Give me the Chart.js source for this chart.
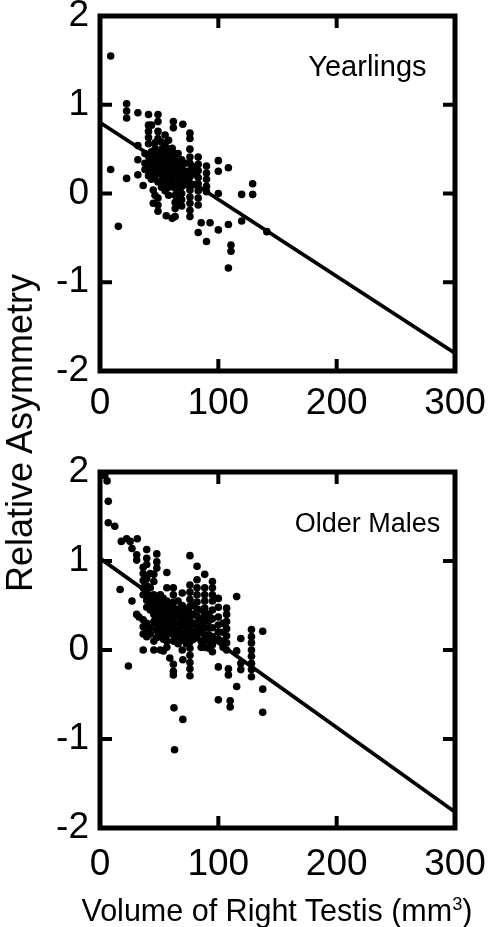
<!DOCTYPE html>
<html>
<head>
<meta charset="utf-8">
<script src="https://cdn.jsdelivr.net/npm/chart.js@4.4.0/dist/chart.umd.min.js"></script>
<style>
  html, body { margin: 0; padding: 0; background: #fff; }
  #wrap { position: relative; width: 488px; height: 927px; overflow: hidden; font-family: 'Liberation Sans', Arial, sans-serif; color: #000; }
  canvas { position: absolute; left: 0; }
  #top { top: 0; }
  #bottom { top: 440px; }
  .ytitle { position: absolute; left: 20px; top: 433px; transform: translate(-50%, -50%) rotate(-90deg); font-size: 36px; white-space: nowrap; }
  .xtitle { position: absolute; left: 277px; top: 910px; transform: translate(-50%, -50%); font-size: 30.5px; white-space: nowrap; }
  .xtitle sup { font-size: 0.6em; vertical-align: 0.6em; line-height: 0; }
</style>
</head>
<body>
<div id="wrap">
  <canvas id="top" width="488" height="440"></canvas>
  <canvas id="bottom" width="488" height="487"></canvas>
  <div class="ytitle">Relative Asymmetry</div>
  <div class="xtitle">Volume of Right Testis (mm<sup>3</sup>)</div>
</div>
<script>
const xTicks = [0, 100, 200, 300];
const yTicks = [-2, -1, 0, 1, 2];

// regression lines, value at x = 0 and x = 300
const fitX = [0, 300];
const yearlingFit = [0.8, -1.8];
const olderFit = [1.03, -1.82];

// [volume, relative asymmetry]
const yearlings = [
  [9, 1.55], [9, 0.27], [15.5, -0.37],
  [22.5, 1.01], [22.5, 0.93], [22.5, 0.85], [22.5, 0.17],
  [32, 0.91], [32, 0.54], [32, 0.38], [32, 0.21], [36.5, 0.09],
  [38, 0.45], [38, 0.34], [38, 0.27],
  [41, 0.89], [41, 0.77], [41, 0.7], [41, 0.63], [41, 0.56], [41, 0.42], [41, 0.35], [41, 0.28], [41, 0.2],
  [43.5, 0.77], [43.5, 0.47], [43.5, 0.4], [43.5, 0.3], [43.5, 0.23], [43.5, 0.16],
  [45, 0.04], [45, -0.11],
  [46.5, 0.57], [46.5, 0.5], [46.5, 0.42], [46.5, 0.34], [46.5, 0.27], [46.5, 0.2], [46.5, -0.02],
  [49, 0.89], [49, 0.81], [49, 0.7], [49, 0.62], [49, 0.46], [49, 0.39], [49, 0.31], [49, 0.24], [49, 0.13], [49, -0.05], [49, -0.13], [49, -0.2],
  [52, 0.58], [52, 0.5], [52, 0.42], [52, 0.35], [52, 0.28], [52, 0.21], [52, 0.14], [52, 0.07],
  [55, 0.66], [55, 0.56], [55, 0.45], [55, 0.38], [55, 0.31], [55, 0.24], [55, 0.17], [55, 0.1], [55, 0.03],
  [56, -0.25],
  [58, 0.6], [58, 0.5], [58, 0.43], [58, 0.36], [58, 0.29], [58, 0.22], [58, 0.14], [58, 0.07], [58, -0.02],
  [61, 0.51], [61, 0.44], [61, 0.37], [61, 0.3], [61, 0.23], [61, 0.16], [61, 0.09], [61, -0.28],
  [62, 0.81], [62, 0.74],
  [63.5, 0.45], [63.5, 0.38], [63.5, 0.31], [63.5, 0.24], [63.5, 0.06], [63.5, -0.02], [63.5, -0.1], [63.5, -0.17], [63.5, -0.26],
  [66, 0.45], [66, 0.35], [66, 0.27], [66, 0.2], [66, 0.13], [66, 0.06], [66, -0.02], [66, -0.09],
  [69, 0.38], [69, 0.3], [69, 0.22], [69, 0.15], [69, 0.08], [69, 0], [69, -0.07], [69, -0.14],
  [70, 0.78],
  [72, 0.34], [72, 0.25], [72, 0.17], [72, 0.1],
  [76, 0.68], [76, 0.62], [76, 0.5], [76, 0.41], [76, 0.34], [76, 0.26], [76, 0.19], [76, 0.11], [76, 0.04], [76, -0.04], [76, -0.11], [76, -0.19], [76, -0.26],
  [79.5, 0.3], [79.5, 0.22], [79.5, 0.1],
  [83, 0.41], [83, 0.33], [83, 0.26], [83, 0.18], [83, 0.11], [83, 0.03], [83, -0.05], [83, -0.13], [83, -0.44],
  [85.5, -0.33],
  [90, 0.31], [90, 0.23], [90, 0.16], [90, 0.08], [90, 0.02], [90, -0.54],
  [93, -0.33],
  [100, 0.37], [100, 0.25], [100, 0], [100, -0.41],
  [108.5, 0.29], [108.5, -0.35], [108.5, -0.84],
  [110.7, -0.58], [110.7, -0.65],
  [119.7, -0.01], [119.7, -0.31],
  [129, 0.11], [129, -0.01],
  [141, -0.43]
];

const olderMales = [
  [4, 1.96], [6, 1.9], [7, 1.67], [7, 1.43], [12.5, 1.39], [18, 1.22], [22.5, 1.25], [25.5, 1.22], [31.5, 1.25],
  [27, 1.14], [31, 1.07], [31, 1.01], [17, 0.68], [27, 0.55], [31, 0.4], [33, 0.37], [24, -0.18],
  [36.5, 0.93], [36.5, 0.86], [36.5, 0.78], [36.5, 0.7], [36.5, 0.62], [36.5, 0.34], [36.5, 0.26], [36.5, 0.18], [36.5, 0],
  [39.5, 1.13], [39.5, 1.03], [39.5, 0.96], [39.5, 0.8], [39.5, 0.72], [39.5, 0.64], [39.5, 0.56], [39.5, 0.48], [39.5, 0.3], [39.5, 0.22], [39.5, 0.15],
  [42.5, 0.86], [42.5, 0.7], [42.5, 0.6], [42.5, 0.52], [42.5, 0.45], [42.5, 0.25], [42.5, 0.18],
  [45.5, 0.85], [45.5, 0.77], [45.5, 0.62], [45.5, 0.55], [45.5, 0.47], [45.5, 0.4], [45.5, 0.32], [45.5, 0.1], [45.5, 0],
  [48, 1.08], [48, 0.99], [48, 0.92], [48, 0.6], [48, 0.52], [48, 0.44], [48, 0.37], [48, 0.29], [48, 0.22], [48, 0.14],
  [51, 0.62], [51, 0.55], [51, 0.47], [51, 0.4], [51, 0.33], [51, 0.25], [51, 0.17], [51, 0],
  [53.5, 0.58], [53.5, 0.5], [53.5, 0.42], [53.5, 0.35], [53.5, 0.27], [53.5, 0.2], [53.5, 0.12], [53.5, -0.01],
  [56.5, 0.87], [56.5, 0.7], [56.5, 0.55], [56.5, 0.47], [56.5, 0.4], [56.5, 0.32], [56.5, 0.25], [56.5, 0.17], [56.5, 0.1], [56.5, 0.03],
  [59, 0.5], [59, 0.43], [59, 0.35], [59, 0.28], [59, 0.2], [59, -0.09],
  [62, 0.7], [62, 0.62], [62, 0.54], [62, 0.47], [62, 0.39], [62, 0.32], [62, 0.24], [62, 0.17], [62, 0.1], [62, -0.16], [62, -0.24], [62, -0.28], [62.5, -0.65], [63, -1.12],
  [66, 0.55], [66, 0.46], [66, 0.38], [66, 0.3], [66, 0.22], [66, 0.15], [66, 0.07],
  [69.5, 0.64], [69.5, 0.5], [69.5, 0.42], [69.5, 0.34], [69.5, 0.27], [69.5, 0.19], [69.5, 0.11], [69.5, 0], [70, -0.11], [70, -0.78],
  [73, 0.45], [73, 0.37], [73, 0.3], [73, 0.22], [73, 0.14], [73, 0.07],
  [76, 1.06], [76, 0.73], [76, 0.65], [76, 0.57], [76, 0.49], [76, 0.41], [76, 0.33], [76, 0.25], [76, 0.17], [76, 0.09], [76, 0.02], [76, -0.06], [76, -0.14], [76, -0.21], [76, -0.29],
  [79, 0.5], [79, 0.4], [79, 0.3], [79, 0.2], [79, 0.12],
  [82, 0.94], [82, 0.79], [82, 0.7], [82, 0.62], [82, 0.54], [82, 0.46], [82, 0.38], [82, 0.3], [82, 0.22], [82, 0.14],
  [85.5, 0.45], [85.5, 0.35], [85.5, 0.28], [85.5, 0.2], [85.5, 0.1], [85.5, 0.03],
  [88.5, 0.85], [88.5, 0.7], [88.5, 0.62], [88.5, 0.55], [88.5, 0.47], [88.5, 0.4], [88.5, 0.32], [88.5, 0.25], [88.5, 0.17], [88.5, 0.1], [88.5, 0.03],
  [92, 0.4], [92, 0.33], [92, 0.25], [92, 0.17], [92, 0.1], [92, 0.02],
  [95, 0.77], [95, 0.7], [95, 0.62], [95, 0.55], [95, 0.45], [95, 0.35], [95, 0.25], [95, 0.15], [95, 0.06], [95, -0.02],
  [100, 0.58], [100, 0.48], [100, 0.37], [100, 0.28], [100, 0.2], [100, 0.12], [100, -0.19], [100, -0.56],
  [104, 0.3], [104, 0.2], [104, 0.1], [104, 0.03],
  [107, 0.47], [107, 0.4], [107, 0.32], [107, 0.24], [107, 0.16], [107, 0.08], [107, 0],
  [108.5, -0.21], [108.5, -0.28], [110, -0.57], [110, -0.64],
  [115.5, 0.6], [115.5, -0.01], [115.5, -0.41],
  [119, 0.13], [119, -0.15], [119, -0.22],
  [128, 0.23], [128, 0.15], [128, 0.08], [128, 0], [128, -0.07], [128, -0.15], [128, -0.22], [128, -0.3],
  [137.5, 0.21], [137.5, -0.44], [137.5, -0.7]
];

const FONT = "'Liberation Sans', Arial, sans-serif";

// box frame with inward ticks, plus the panel name
const framePlugin = {
  id: 'frame',
  afterDatasetsDraw(chart, args, opts) {
    const { ctx, chartArea: a, scales: { x, y } } = chart;
    ctx.save();
    ctx.strokeStyle = '#000';
    ctx.lineWidth = 5;
    ctx.strokeRect(a.left, a.top, a.right - a.left, a.bottom - a.top);
    ctx.lineWidth = 4;
    ctx.beginPath();
    xTicks.slice(1, -1).forEach(v => {
      const px = x.getPixelForValue(v);
      ctx.moveTo(px, a.bottom); ctx.lineTo(px, a.bottom - 12);
      ctx.moveTo(px, a.top); ctx.lineTo(px, a.top + 12);
    });
    yTicks.slice(1, -1).forEach(v => {
      const py = y.getPixelForValue(v);
      ctx.moveTo(a.left, py); ctx.lineTo(a.left + 12, py);
      ctx.moveTo(a.right, py); ctx.lineTo(a.right - 12, py);
    });
    ctx.stroke();
    ctx.fillStyle = '#000';
    ctx.font = opts.size + 'px ' + FONT;
    ctx.textAlign = 'center';
    ctx.textBaseline = 'middle';
    ctx.fillText(opts.label, x.getPixelForValue(opts.at[0]), y.getPixelForValue(opts.at[1]));
    ctx.restore();
  }
};

function makeChart(id, points, fit, label, labelSize, topPad, xHeight, xPad) {
  return new Chart(document.getElementById(id), {
    type: 'scatter',
    data: {
      datasets: [{
        data: points.map(p => ({ x: p[0], y: p[1] })),
        pointRadius: 3.8,
        pointBackgroundColor: '#000',
        pointBorderWidth: 0,
        clip: 5
      }, {
        data: fitX.map((v, i) => ({ x: v, y: fit[i] })),
        showLine: true,
        borderColor: '#000',
        borderWidth: 3.8,
        pointRadius: 0
      }]
    },
    options: {
      responsive: false,
      animation: false,
      devicePixelRatio: 1,
      layout: { padding: { top: topPad, right: 33, left: 0, bottom: 0 } },
      plugins: {
        legend: { display: false },
        tooltip: { enabled: false },
        frame: { label: label, size: labelSize, at: [226, 1.41] }
      },
      scales: {
        x: {
          type: 'linear', min: 0, max: 300,
          grid: { display: false, drawTicks: false },
          border: { display: false },
          ticks: { stepSize: 100, padding: xPad, color: '#000', maxRotation: 0, autoSkip: false, font: { family: FONT, size: 37 } },
          afterFit: s => { s.height = xHeight; s.paddingLeft = 0; s.paddingRight = 0; }
        },
        y: {
          type: 'linear', min: -2, max: 2,
          grid: { display: false, drawTicks: false },
          border: { display: false },
          ticks: { stepSize: 1, padding: 11, color: '#000', font: { family: FONT, size: 37 } },
          afterFit: s => { s.width = 100; s.paddingTop = 0; s.paddingBottom = 0; }
        }
      }
    },
    plugins: [framePlugin]
  });
}

makeChart('top', yearlings, yearlingFit, 'Yearlings', 29, 16, 69, 11);
makeChart('bottom', olderMales, olderFit, 'Older Males', 27, 32, 99, 15);
</script>
</body>
</html>
